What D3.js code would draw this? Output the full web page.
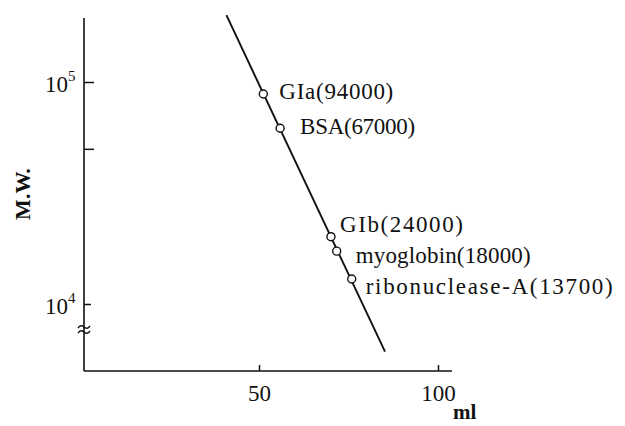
<html>
<script src='https://d3js.org/d3.v7.min.js'></script>
<style>
  body {margin:0; background:#fff;}
  text {font-family:'Liberation Serif', 'Times New Roman', serif; fill:#111;}
  .axis path, .axis line {stroke:#111; stroke-width:1.5;}
</style>
<body onload='init()'>
<svg width=625 height=426></svg>
<script>
// calibration proteins
const proteins = ['GIa', 'BSA', 'GIb', 'myoglobin', 'ribonuclease-A'];
const mwLabels = [94000, 67000, 24000, 18000, 13700];
const elution = [51.2, 55.9, 70.1, 71.7, 75.9];      // ml
const mwPlotted = [88300, 61900, 20100, 17300, 12960]; // where the circles sit
// fitted line ends
const fitX = [40.9, 85.2];
const fitY = [200000, 6100];
// ticks
const yTicks = [1e4, 5e4, 1e5];
const yTickExp = ['4', '', '5'];
const xTicks = [50, 100];

function init() {
  const svg = d3.select('svg');
  const x = d3.scaleLinear().domain([0, 100]).range([80, 438]);
  const y = d3.scaleLog().domain([1e4, 1e5]).range([304, 82]);
  const axisX = 84, axisY = 371;

  // y axis line
  svg.append('line').attr('x1', axisX).attr('x2', axisX)
     .attr('y1', 18).attr('y2', axisY)
     .attr('stroke', '#111').attr('stroke-width', 1.6);
  // x axis line
  svg.append('line').attr('x1', axisX).attr('x2', x(103.9))
     .attr('y1', axisY).attr('y2', axisY)
     .attr('stroke', '#111').attr('stroke-width', 1.6);

  var yAxis = d3.axisLeft(y).tickValues(yTicks).tickSize(-10).tickPadding(12).tickFormat('');
  var gy = svg.append('g').attr('class', 'axis')
     .attr('transform', 'translate(' + axisX + ',0)')
     .call(yAxis);
  gy.select('.domain').remove();
  gy.selectAll('.tick line').attr('x2', (d) => d === 1e4 ? 7 : 10);
  gy.selectAll('.tick').each(function(d, i) {
    if (!yTickExp[i]) return;
    const t = d3.select(this).append('text')
      .attr('x', -39).attr('y', 9)
      .attr('text-anchor', 'start')
      .style('font-size', '23px');
    t.append('tspan').text('10');
    t.append('tspan').attr('dy', -11).style('font-size', '15px').text(yTickExp[i]);
  });

  var xAxis = d3.axisBottom(x).tickValues(xTicks).tickSize(-6).tickPadding(14);
  var gx = svg.append('g').attr('class', 'axis')
     .attr('transform', 'translate(0,' + axisY + ')')
     .call(xAxis);
  gx.select('.domain').remove();
  gx.selectAll('.tick text').style('font-size', '23px').attr('fill', '#111');

  // axis break marks
  const by = y(1e4) + 24;
  [0, 5].forEach(function(o) {
    svg.append('path')
      .attr('d', 'M' + (axisX - 6) + ',' + (by + o) + ' q3,-4 6,-1 t6,-1')
      .attr('fill', 'none').attr('stroke', '#111').attr('stroke-width', 1.4);
  });

  // axis titles
  svg.append('text')
     .attr('transform', 'translate(30,194) rotate(-90)')
     .attr('text-anchor', 'middle')
     .style('font-size', '22px').style('font-weight', 'bold')
     .text('M.W.');
  svg.append('text')
     .attr('x', 453).attr('y', 419)
     .style('font-size', '21px').style('font-weight', 'bold')
     .text('ml');

  // fitted line
  svg.append('line')
     .attr('x1', x(fitX[0])).attr('y1', y(fitY[0]))
     .attr('x2', x(fitX[1])).attr('y2', y(fitY[1]))
     .attr('stroke', '#111').attr('stroke-width', 1.9);

  // points
  svg.selectAll('circle')
     .data(proteins)
     .enter()
     .append('circle')
       .attr('cx', (d, i) => x(elution[i]))
       .attr('cy', (d, i) => y(mwPlotted[i]))
       .attr('r', 4)
       .attr('fill', '#fff').attr('stroke', '#111').attr('stroke-width', 1.4);

  // labels
  const labelDx = [16, 20, 9, 19, 14];
  const labelDy = [5, 6, -5, 12, 15];
  const labelLen = [114, 115, 123, 175, 247];
  svg.selectAll('.lbl')
     .data(proteins)
     .enter()
     .append('text')
       .attr('class', 'lbl')
       .attr('x', (d, i) => x(elution[i]) + labelDx[i])
       .attr('y', (d, i) => y(mwPlotted[i]) + labelDy[i])
       .attr('textLength', (d, i) => labelLen[i])
       .attr('lengthAdjust', 'spacing')
       .style('font-size', '23px')
       .text((d, i) => d + '(' + mwLabels[i] + ')');
}
</script>
</body>
</html>
